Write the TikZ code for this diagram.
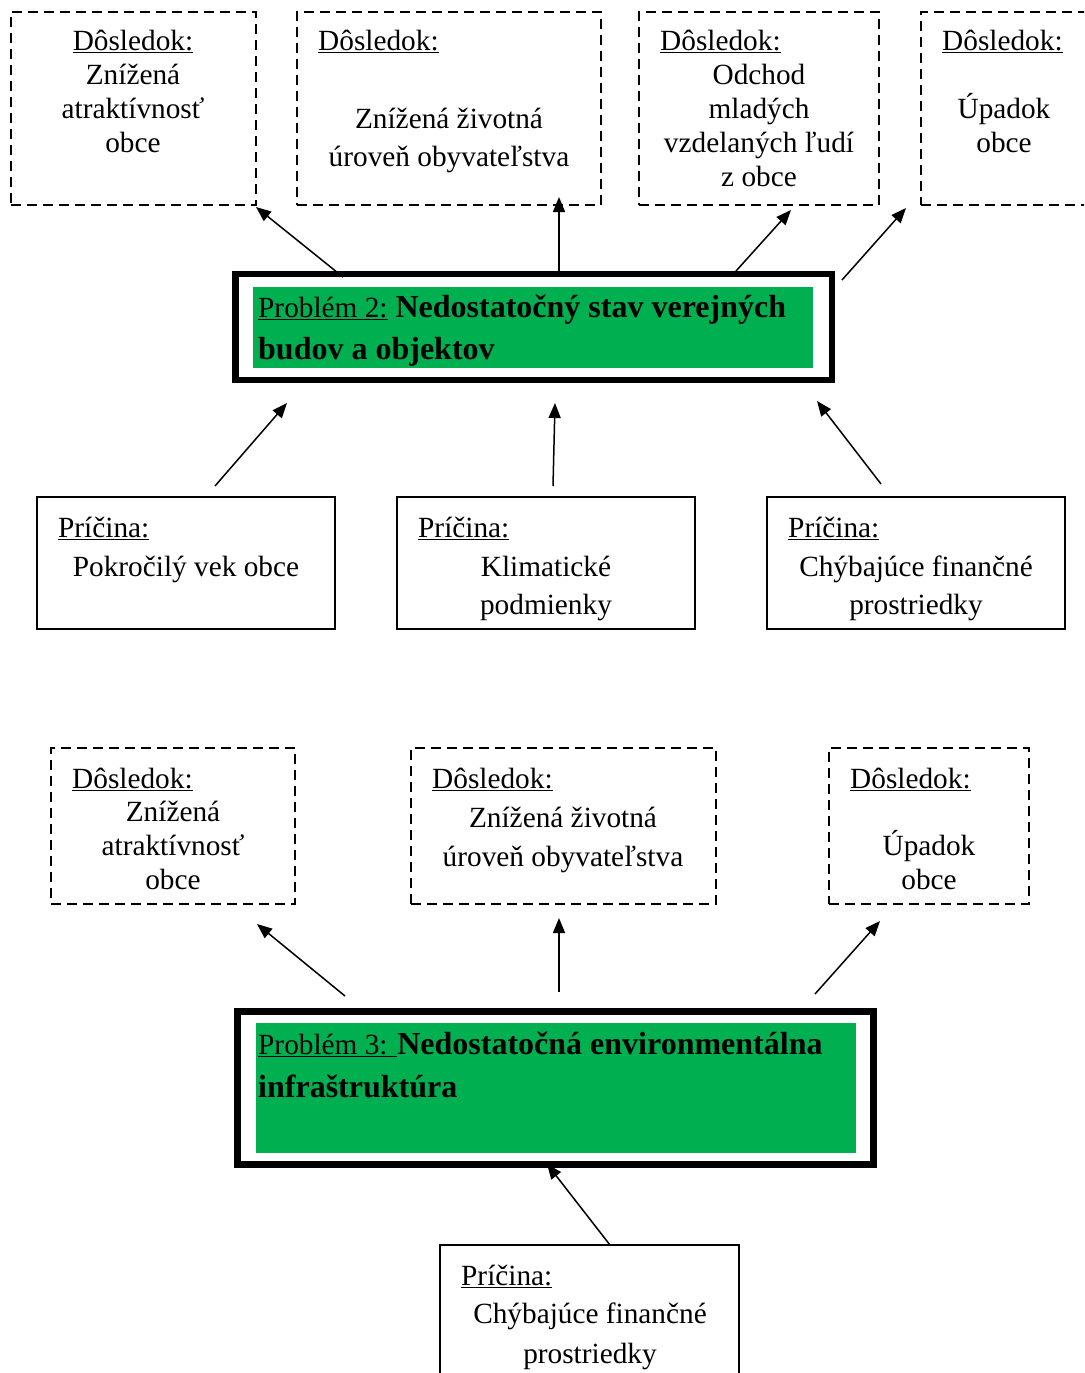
\documentclass[tikz,border=0pt]{standalone}
\usepackage{fontspec}
\setmainfont{Liberation Serif}
\usetikzlibrary{arrows.meta}
\definecolor{pgreen}{HTML}{00B050}
\tikzset{
 tx/.style={inner sep=0pt, anchor=base, font=\fontsize{29.3}{34}\selectfont},
 txl/.style={tx, anchor=base west},
 btx/.style={inner sep=0pt, anchor=base west, font=\fontsize{32}{42}\selectfont\bfseries},
 dbox/.style={draw, line width=2.6pt, dash pattern=on 10pt off 6pt, anchor=north west, inner sep=0pt, outer sep=0pt},
 cbox/.style={draw, line width=1.5pt, anchor=north west, inner sep=0pt, outer sep=0pt},
 pbox/.style={draw, line width=6.3pt, anchor=north west, inner sep=0pt, outer sep=0pt},
 gbox/.style={fill=pgreen, anchor=north west, inner sep=0pt, outer sep=0pt},
 arr/.style={line width=1.5pt, -{Triangle[length=15pt,width=12pt]}},
}
\newcommand\nrm{\fontsize{29.3}{34}\selectfont\mdseries}
\begin{document}
\begin{tikzpicture}[x=1pt,y=-1pt]
\fill[white] (0,0) rectangle (1084,1373);
\clip[use as bounding box] (0,0) rectangle (1084,1373);

% ---------- top consequences ----------
\node[dbox, minimum width=245pt, minimum height=193pt] (b1) at (11,12) {};
\node[dbox, minimum width=304pt, minimum height=193pt] (b2) at (297,12) {};
\node[dbox, minimum width=240pt, minimum height=193pt] (b3) at (639,12) {};
\node[dbox, minimum width=179pt, minimum height=193pt] (b4) at (921,12) {};

\node[tx] (b1h) at (133,50) {\underline{Dôsledok:}};
\node[tx] (b1a) at (133,84) {Znížená};
\node[tx] (b1b) at (133,118) {atraktívnosť};
\node[tx] (b1c) at (133,152) {obce};

\node[txl] (b2h) at (318,50) {\underline{Dôsledok:}};
\node[tx] (b2a) at (449,128) {Znížená životná};
\node[tx] (b2b) at (449,166) {úroveň obyvateľstva};

\node[txl] (b3h) at (660,50) {\underline{Dôsledok:}};
\node[tx] (b3a) at (759,84) {Odchod};
\node[tx] (b3b) at (759,118) {mladých};
\node[tx] (b3c) at (759,152) {vzdelaných ľudí};
\node[tx] (b3d) at (759,186) {z obce};

\node[txl] (b4h) at (942,50) {\underline{Dôsledok:}};
\node[tx] (b4a) at (1004,118) {Úpadok};
\node[tx] (b4b) at (1004,152) {obce};

% ---------- problem 2 ----------
\node[pbox, minimum width=596.5pt, minimum height=106.3pt] (p2) at (235.5,273.7) {};
\node[gbox, minimum width=559.5pt, minimum height=81pt] (g2) at (253.3,286.7) {};
\node[btx] (p2a) at (258,317.5) {{\nrm\underline{Problém 2:}} Nedostatočný stav verejných};
\node[btx] (p2b) at (258,359.5) {budov a objektov};

% ---------- causes of problem 2 ----------
\node[cbox, minimum width=298pt, minimum height=132pt] (c1) at (37,497) {};
\node[cbox, minimum width=298pt, minimum height=132pt] (c2) at (397,497) {};
\node[cbox, minimum width=298pt, minimum height=132pt] (c3) at (767,497) {};

\node[txl] (c1h) at (58,537) {\underline{Príčina:}};
\node[tx] (c1a) at (186,576) {Pokročilý vek obce};

\node[txl] (c2h) at (418,537) {\underline{Príčina:}};
\node[tx] (c2a) at (546,576) {Klimatické};
\node[tx] (c2b) at (546,614) {podmienky};

\node[txl] (c3h) at (788,537) {\underline{Príčina:}};
\node[tx] (c3a) at (916,576) {Chýbajúce finančné};
\node[tx] (c3b) at (916,614) {prostriedky};

% arrows problem 2
\coordinate (s1) at (343,277); \coordinate (e1) at (256,207);
\coordinate (s2) at (559,271); \coordinate (e2) at (559,197);
\coordinate (s3) at (736,271); \coordinate (e3) at (791,210);
\coordinate (s4) at (842,280); \coordinate (e4) at (906,208);
\coordinate (s5) at (215,486); \coordinate (e5) at (287,403);
\coordinate (s6) at (553,486); \coordinate (e6) at (555,403);
\coordinate (s7) at (881,484); \coordinate (e7) at (817,401);
\draw[arr] (s1) -- (e1);
\draw[arr] (s2) -- (e2);
\draw[arr] (s3) -- (e3);
\draw[arr] (s4) -- (e4);
\draw[arr] (s5) -- (e5);
\draw[arr] (s6) -- (e6);
\draw[arr] (s7) -- (e7);

% ---------- lower consequences ----------
\node[dbox, minimum width=244pt, minimum height=156pt] (d1) at (51,748) {};
\node[dbox, minimum width=305pt, minimum height=156pt] (d2) at (411,748) {};
\node[dbox, minimum width=200pt, minimum height=156pt] (d3) at (829,748) {};

\node[txl] (d1h) at (72,788) {\underline{Dôsledok:}};
\node[tx] (d1a) at (173,821) {Znížená};
\node[tx] (d1b) at (173,855) {atraktívnosť};
\node[tx] (d1c) at (173,889) {obce};

\node[txl] (d2h) at (432,788) {\underline{Dôsledok:}};
\node[tx] (d2a) at (563,827) {Znížená životná};
\node[tx] (d2b) at (563,866) {úroveň obyvateľstva};

\node[txl] (d3h) at (850,788) {\underline{Dôsledok:}};
\node[tx] (d3a) at (929,855) {Úpadok};
\node[tx] (d3b) at (929,889) {obce};

% ---------- problem 3 ----------
\node[pbox, minimum width=636pt, minimum height=153pt] (p3) at (237.5,1011.5) {};
\node[gbox, minimum width=600pt, minimum height=130pt] (g3) at (256,1023) {};
\node[btx] (p3a) at (258,1054) {{\nrm\underline{Problém 3: }}Nedostatočná environmentálna};
\node[btx] (p3b) at (258,1097) {infraštruktúra};

% cause of problem 3
\node[cbox, minimum width=299pt, minimum height=160pt] (pc) at (440,1245) {};
\node[txl] (pch) at (461,1285) {\underline{Príčina:}};
\node[tx] (pca) at (590,1323) {Chýbajúce finančné};
\node[tx] (pcb) at (590,1363) {prostriedky};

% arrows problem 3
\coordinate (s8) at (345,996); \coordinate (e8) at (257,924);
\coordinate (s9) at (559,992); \coordinate (e9) at (559,918);
\coordinate (s10) at (815,994); \coordinate (e10) at (880,921);
\coordinate (s11) at (610,1245); \coordinate (e11) at (547,1164);
\draw[arr] (s8) -- (e8);
\draw[arr] (s9) -- (e9);
\draw[arr] (s10) -- (e10);
\draw[arr] (s11) -- (e11);
\end{tikzpicture}
\end{document}
